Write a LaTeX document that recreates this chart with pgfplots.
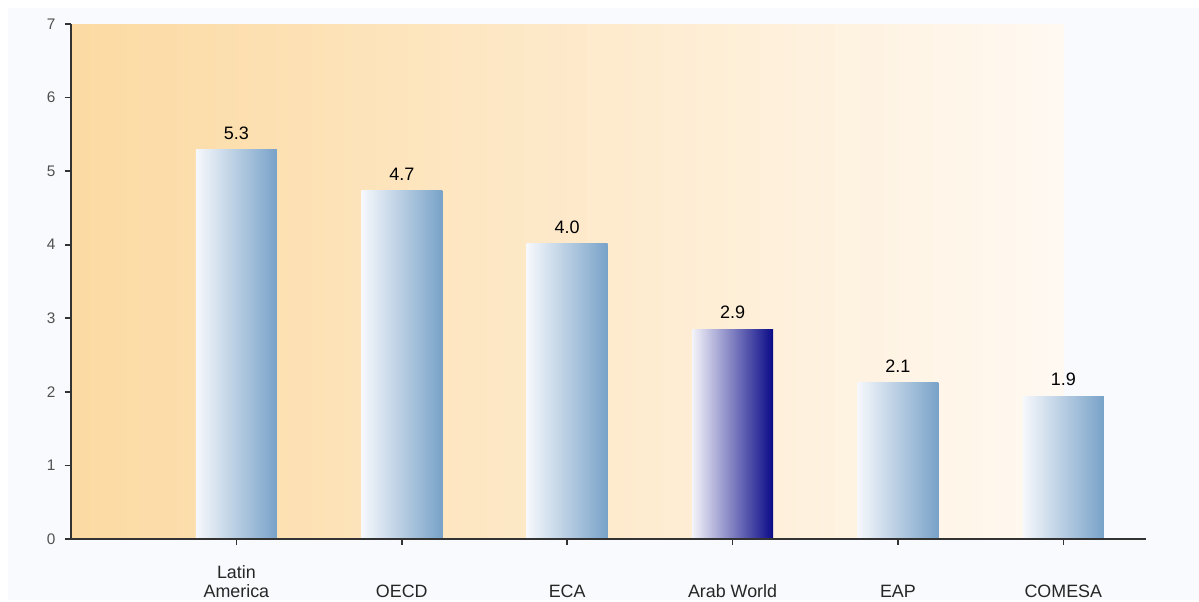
\documentclass[border=0pt]{standalone}
\usepackage{pgfplots}
\pgfplotsset{compat=1.18}
\usepackage{fontspec}
\setmainfont{Liberation Sans}
\definecolor{pagebg}{HTML}{F8FAFD}
\definecolor{bgleft}{HTML}{FCDAA2}
\definecolor{bgmid}{HTML}{FEE8C6}
\definecolor{bgright}{HTML}{FFF9F2}
\definecolor{axisgray}{HTML}{333333}
\definecolor{ticklab}{HTML}{505050}
\definecolor{barL}{HTML}{F6F8FC}
\definecolor{barM}{HTML}{C2D4E6}
\definecolor{barR}{HTML}{78A2C8}
\definecolor{arabL}{HTML}{F4F4FA}
\definecolor{arabM}{HTML}{8A88C8}
\definecolor{arabR}{HTML}{0A0A88}
\begin{document}
\begin{tikzpicture}
\fill[white] (0,0) rectangle (899.25pt,451.5pt);
\fill[pagebg] (6pt,1.5pt) rectangle (899.25pt,445.5pt);
\begin{axis}[
  at={(53.25pt,47.25pt)}, anchor=south west,
  scale only axis, width=806.25pt, height=386.25pt,
  xmin=0, xmax=6.5, ymin=0, ymax=7,
  axis x line*=bottom, axis y line*=left,
  axis line style={draw=axisgray, line width=1.5pt, -},
  axis on top,
  xtick={1,2,3,4,5,6},
  xticklabels={{Latin\\America},OECD,ECA,Arab World,EAP,COMESA},
  ytick={0,1,2,3,4,5,6,7},
  tick align=outside, major tick length=4.5pt,
  tick style={draw=axisgray, line width=1.2pt},
  x tick label style={anchor=south, yshift=-39.75pt, align=center,
    font=\fontsize{13.4}{14.5}\selectfont, text=black!85, inner sep=0pt},
  y tick label style={anchor=east, inner sep=0pt, xshift=-7pt,
    font=\fontsize{11.5}{12}\selectfont, text=ticklab},
  /pgf/number format/assume math mode=true,
  ybar, bar width=0.49, bar shift=0pt,
  point meta=explicit symbolic,
  nodes near coords,
  nodes near coords style={anchor=south, inner sep=0pt, yshift=7.5pt,
    font=\fontsize{13.5}{14}\selectfont, text=black},
  bluebar/.style={draw=none, left color=barL, middle color=barM, right color=barR},
]
\fill[left color=bgleft, middle color=bgmid, right color=bgright]
  (axis cs:0,0) rectangle (axis cs:6,7);
\addplot[bluebar] coordinates {(1,5.29) [5.3]};
\addplot[bluebar] coordinates {(2,4.74) [4.7]};
\addplot[bluebar] coordinates {(3,4.01) [4.0]};
\addplot[draw=none, left color=arabL, middle color=arabM, right color=arabR]
  coordinates {(4,2.85) [2.9]};
\addplot[bluebar] coordinates {(5,2.13) [2.1]};
\addplot[bluebar] coordinates {(6,1.94) [1.9]};
\end{axis}
\end{tikzpicture}
\end{document}
